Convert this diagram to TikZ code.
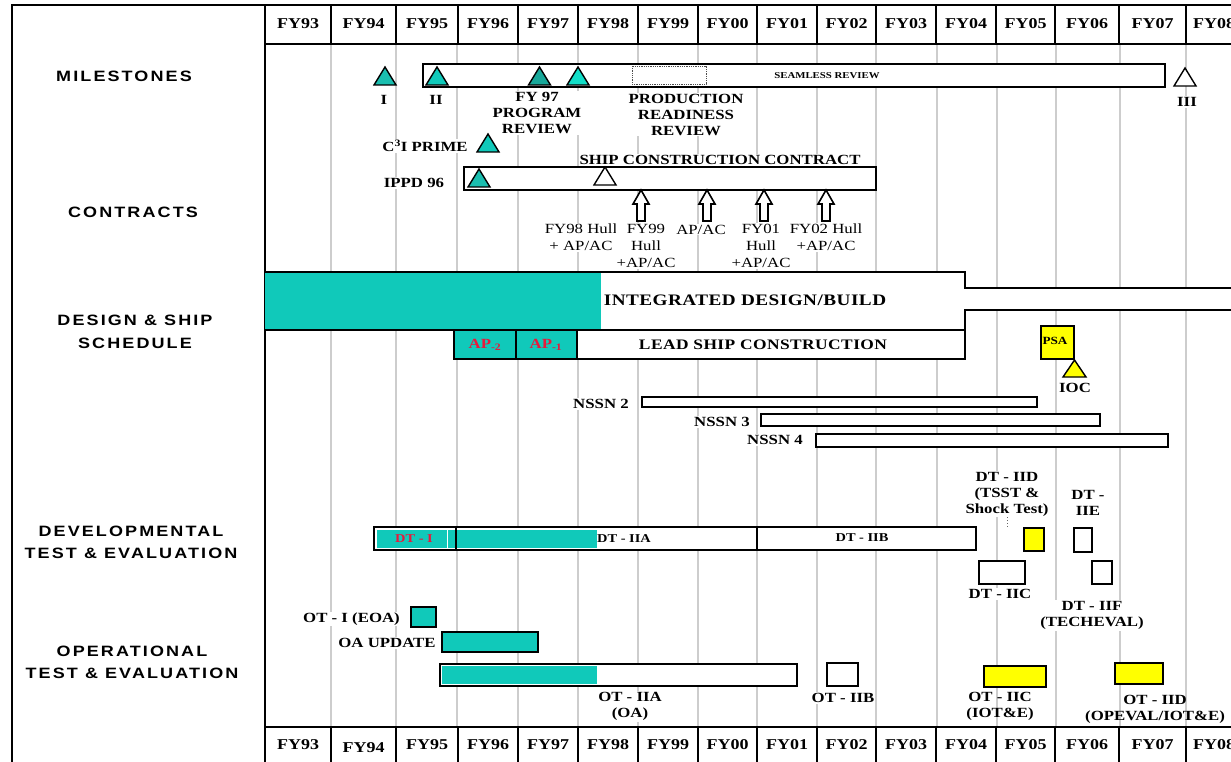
\documentclass[tikz,border=0pt]{standalone}
\usepackage{fontspec}
\setmainfont{Liberation Serif}[FakeStretch=1.2]
\newfontfamily\sectfont{Liberation Sans}[FakeStretch=1.2,LetterSpace=14]
\newfontfamily\spacedfont{Liberation Serif}[FakeStretch=1.2,LetterSpace=3]
\definecolor{tealc}{RGB}{16,201,186}
\definecolor{tealA}{RGB}{26,190,175}
\definecolor{tealD}{RGB}{24,168,154}
\definecolor{tealB}{RGB}{18,222,200}
\definecolor{gridgray}{RGB}{205,205,205}
\definecolor{yellowc}{RGB}{255,255,0}
\definecolor{redc}{RGB}{230,25,60}
\newcommand\mtri[3]{\draw[tri,fill=#3] (#1,#2) -- ++(11,18) -- ++(-22,0) -- cycle;}
\newcommand\uarr[1]{\draw[bar] (#1,190) -- (#1+8,204) -- (#1+4,204) -- (#1+4,221) -- (#1-4,221) -- (#1-4,204) -- (#1-8,204) -- cycle;}
\begin{document}
\begin{tikzpicture}[x=1pt,y=-1pt,
  gridln/.style={draw=gridgray, line width=1.8pt},
  frame/.style={draw=black, line width=2pt},
  bar/.style={draw=black, line width=1.6pt, fill=white, line join=miter},
  tri/.style={draw=black, line width=1.4pt, line join=miter},
  lbl/.style={font=\fontsize{14}{16}\selectfont\bfseries, align=center, inner sep=1pt},
  lblw/.style={lbl, fill=white},
  reg/.style={font=\fontsize{14}{17}\selectfont, align=center, inner sep=1pt, fill=white},
  sect/.style={font=\sectfont\fontsize{15}{22.5}\selectfont\bfseries, align=center},
  hdr/.style={font=\fontsize{15}{18}\selectfont\bfseries},
  small/.style={font=\fontsize{12}{14}\selectfont\bfseries, inner sep=1pt}]
\useasboundingbox (0,0) rectangle (1231,762);
\begin{scope}
\clip (0,0) rectangle (1231,762);
\fill[white] (0,0) rectangle (1231,762);
% grid lines
\foreach \x in {331,396,457,518,578,638,698,757,817,876,937,997,1056,1120,1186}
  \draw[gridln] (\x,44) -- (\x,727);
% frame
\draw[frame] (12,5.5) -- (1240,5.5);
\draw[frame] (12,4.5) -- (12,770);
\draw[frame] (265,5) -- (265,770);
\draw[frame] (265,44) -- (1240,44);
\draw[frame] (265,727) -- (1240,727);
% header cells
\foreach \a/\b/\t/\yb in {265/331/FY93/745, 331/396/FY94/748, 396/458/FY95/745, 458/518/FY96/745, 518/578/FY97/745, 578/638/FY98/745, 638/698/FY99/745, 698/757/FY00/745, 757/817/FY01/745, 817/876/FY02/745, 876/936/FY03/745, 936/996/FY04/745, 996/1055/FY05/745, 1055/1119/FY06/745, 1119/1186/FY07/745, 1186/1242/FY08/745} {
  \node[hdr] (top\t) at ({(\a+\b)/2},24) {\t};
  \node[hdr] (bot\t) at ({(\a+\b)/2},\yb) {\t};
  \draw[frame] (\a,5) -- (\a,44);
  \draw[frame] (\a,727) -- (\a,765);
}
% section labels
\node[sect] (ms) at (124,76) {MILESTONES};
\node[sect] (ct) at (133,212) {CONTRACTS};
\node[sect] (ds) at (135,332) {DESIGN \& SHIP\\SCHEDULE};
\node[sect] (dte) at (131,542.5) {DEVELOPMENTAL\\TEST \& EVALUATION};
\node[sect] (ote) at (132,662.5) {OPERATIONAL\\TEST \& EVALUATION};
% milestones
\draw[bar] (423,64) rectangle (1165,87);
\node[font=\fontsize{9}{10}\selectfont\bfseries] (seam) at (827,75.5) {SEAMLESS REVIEW};
\draw[densely dotted, line width=0.8pt, draw=black!70] (632,66) rectangle (706,84);
\mtri{385}{67}{tealA}
\mtri{437}{67}{tealc}
\mtri{539.5}{67}{tealD}
\mtri{578}{67}{tealB}
\mtri{1185}{68}{white}
\node[lblw] (mI) at (384,100) {I};
\node[lblw] (mII) at (436,100) {II};
\node[lblw] (fy97) at (537,113) {FY 97\\PROGRAM\\REVIEW};
\node[lblw] (prr) at (686,114.5) {PRODUCTION\\READINESS\\REVIEW};
\node[lblw] (mIII) at (1187,102) {III};
% contracts
\node[lblw] (c3i) at (425,146) {C\textsuperscript{3}I PRIME};
\mtri{488}{134}{tealc}
\node[lblw] (scc) at (720,160) {SHIP CONSTRUCTION CONTRACT};
\draw[bar] (464,167) rectangle (876,190);
\node[lblw] (ippd) at (414,183) {IPPD 96};
\mtri{479}{169}{tealA}
\mtri{605}{167}{white}
\uarr{641}
\uarr{707}
\uarr{764}
\uarr{826}
\node[reg] (c98) at (581,237.5) {FY98 Hull\\+ AP/AC};
\node[reg] (c99) at (646,246) {FY99\\Hull\\+AP/AC};
\node[reg] (c00) at (701,229.5) {AP/AC};
\node[reg] (c01) at (761,246) {FY01\\Hull\\+AP/AC};
\node[reg] (c02) at (826,237.5) {FY02 Hull\\+AP/AC};
% design & ship schedule
\fill[white] (265,272) -- (965,272) -- (965,288) -- (1240,288) -- (1240,310) -- (965,310) -- (965,330) -- (265,330) -- cycle;
\fill[tealc] (265,273) rectangle (601,329);
\draw[frame] (265,272) -- (965,272) -- (965,288) -- (1240,288);
\draw[frame] (1240,310) -- (965,310) -- (965,359);
\draw[frame] (265,330) -- (965,330);
\node[font=\spacedfont\fontsize{16}{18}\selectfont\bfseries] (idb) at (745,300) {INTEGRATED DESIGN/BUILD};
\draw[bar, fill=tealc] (454,330) rectangle (516,359);
\draw[bar, fill=tealc] (516,330) rectangle (577,359);
\draw[bar] (577,330) rectangle (965,359);
\node[lbl, text=redc] (ap2) at (485,345) {AP\textsubscript{-2}};
\node[lbl, text=redc] (ap1) at (546,345) {AP\textsubscript{-1}};
\node[font=\spacedfont\fontsize{14.5}{16}\selectfont\bfseries] (lsc) at (763,345) {LEAD SHIP CONSTRUCTION};
\draw[bar, fill=yellowc] (1041,326) rectangle (1074,359);
\node[font=\fontsize{11}{12}\selectfont\bfseries, inner sep=1pt] (psa) at (1055,341) {PSA};
\draw[tri, fill=yellowc] (1074.5,360) -- ++(11.5,17) -- ++(-23,0) -- cycle;
\node[lblw] (ioc) at (1075,388) {IOC};
\node[lblw] (n2) at (601,404) {NSSN 2};
\draw[bar] (642,397) rectangle (1037,407);
\node[lblw] (n3) at (722,422) {NSSN 3};
\draw[bar] (761,414) rectangle (1100,426);
\node[lblw] (n4) at (775,440) {NSSN 4};
\draw[bar] (816,434) rectangle (1168,447);
% developmental T&E
\draw[bar] (374,527) rectangle (757,550);
\fill[tealc] (377,529.5) rectangle (455,547.5);
\fill[tealc] (457,529.5) rectangle (597,547.5);
\draw[white, line width=1pt] (447,529.5) -- (447,547.5);
\draw[frame] (456,527) -- (456,550);
\draw[bar] (757,527) rectangle (976,550);
\node[small, text=redc] (dti) at (414,539) {DT - I};
\node[small] (dtiia) at (624,539) {DT - IIA};
\node[small] (dtiib) at (862,538) {DT - IIB};
\draw[bar, fill=yellowc] (1024,528) rectangle (1044,551);
\draw[bar] (1074,528) rectangle (1092,552);
\draw[bar] (979,561) rectangle (1025,584);
\draw[bar] (1092,561) rectangle (1112,584);
\node[lblw] (dtiid) at (1007,494) {DT - IID\\(TSST \&\\Shock Test)};
\coordinate (dtiidend) at (1007,527);
\draw[dotted, line width=1pt, draw=black!60] (dtiid.south) -- (dtiidend);
\node[lblw] (dtiie) at (1088,502.5) {DT -\\IIE};
\node[lblw] (dtiic) at (1000,594) {DT - IIC};
\node[lblw] (dtiif) at (1092,615.5) {DT - IIF\\(TECHEVAL)};
% operational T&E
\node[lblw] (oti) at (351.5,619) {OT - I (EOA)};
\draw[bar, fill=tealc] (411,607) rectangle (436,627);
\node[lblw] (oau) at (387,643) {OA UPDATE};
\draw[bar, fill=tealc] (442,632) rectangle (538,652);
\draw[bar] (440,664) rectangle (797,686);
\fill[tealc] (441.5,666) rectangle (597,683.5);
\draw[bar] (827,663) rectangle (858,686);
\draw[bar, fill=yellowc] (984,666) rectangle (1046,687);
\draw[bar, fill=yellowc] (1115,663) rectangle (1163,684);
\node[lblw] (otiia) at (630,706.5) {OT - IIA\\(OA)};
\node[lblw] (otiib) at (843,698) {OT - IIB};
\node[lbl] (otiic) at (1000,706.5) {OT - IIC\\(IOT\&E)};
\node[lbl] (otiid) at (1155,709.5) {OT - IID\\(OPEVAL/IOT\&E)};
\end{scope}
\end{tikzpicture}
\end{document}
